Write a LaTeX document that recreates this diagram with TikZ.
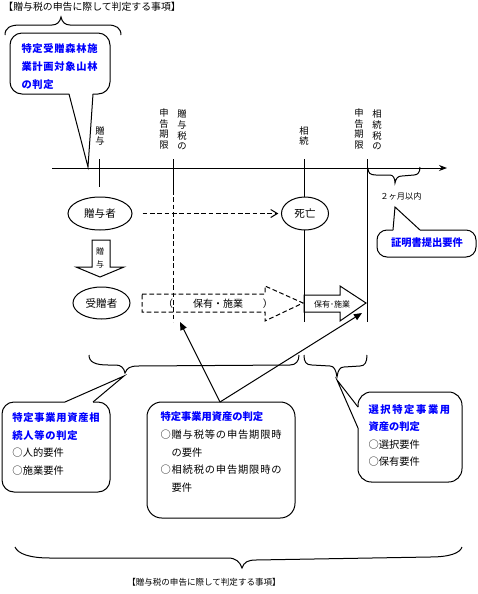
\documentclass[tikz,border=0pt]{standalone}
\usepackage{fontspec}
\setmainfont{Noto Sans CJK JP}
\usetikzlibrary{shapes.geometric,arrows.meta}
\begin{document}
\begin{tikzpicture}[x=0.75pt,y=-0.75pt,line width=0.75pt,
  dsh/.style={dash pattern=on 3.5pt off 2pt},
  t/.style={inner sep=0pt, anchor=west, font=\fontsize{7.7}{9}\selectfont},
  tsp/.style={inner sep=0pt, anchor=west, font=\fontsize{7.7}{9}\selectfont\addfontfeature{LetterSpace=8}},
  tb/.style={inner sep=0pt, anchor=west, text=blue, font=\bfseries\fontsize{7.7}{9}\selectfont},
  tbsp/.style={inner sep=0pt, anchor=west, text=blue, font=\bfseries\fontsize{7.7}{9}\selectfont\addfontfeature{LetterSpace=7}},
  tbsp2/.style={inner sep=0pt, anchor=west, text=blue, font=\bfseries\fontsize{7.7}{9}\selectfont\addfontfeature{LetterSpace=16}},
  vl/.style={inner sep=0pt, align=center, font=\fontsize{7}{7.9}\selectfont},
  oval/.style={ellipse, draw, inner sep=0pt, font=\fontsize{7.9}{9}\selectfont},
  ptr/.style={-{Triangle[length=6pt,width=5pt]}},
  small/.style={inner sep=0pt, font=\fontsize{6.2}{7}\selectfont}
]
\fill[white] (0,0) rectangle (478,594);
\useasboundingbox (0,0) rectangle (478,594);

% titles
\node[inner sep=0pt, anchor=west, font=\fontsize{7.4}{9}\selectfont] (title1) at (3,7) {【贈与税の申告に際して判定する事項】};
\node[inner sep=0pt, font=\fontsize{6.4}{8}\selectfont] (title2) at (204,582) {【贈与税の申告に際して判定する事項】};

% top brace
\draw (5,35) .. controls (5,28) and (10,25) .. (20,25) -- (52,25) .. controls (57,25) and (60,22) .. (61,17) .. controls (62,22) and (65,25) .. (70,25) -- (108,25) .. controls (116,25) and (121,28) .. (121,35);

% top-left callout
\draw[rounded corners=9pt] (69,94) -- (10,94) -- (10,33) -- (110,33) -- (110,94) -- (93,94);
\draw (69,94) -- (88,167) -- (93,94);
\node[tbsp] (a1) at (21,49) {特定受贈森林施};
\node[tbsp] (a2) at (21,67) {業計画対象山林};
\node[tbsp] (a3) at (21,85) {の判定};

% axis
\coordinate (ax0) at (52,168);
\coordinate (ax1) at (447,168);
\draw[-{Stealth[length=6pt,width=4.5pt]}] (ax0) -- (ax1);

% ticks and vertical lines
\draw (99,159) -- (99,187);
\draw (173,159) -- (173,190);
\draw[dsh] (173,190) -- (173,322);
\draw (304,159) -- (304,197);
\draw (304,230) -- (304,322);
\draw (367,159) -- (367,322);

% vertical labels
\node[vl] (v1) at (100,136) {贈\\与};
\node[vl] (v2) at (164,129) {申\\告\\期\\限};
\node[vl] (v3) at (182,130) {贈\\与\\税\\の};
\node[vl] (v4) at (304,136) {相\\続};
\node[vl] (v5) at (359,129) {申\\告\\期\\限};
\node[vl] (v6) at (377,130) {相\\続\\税\\の};

% small brace below axis
\draw (368,168) .. controls (368,173) and (370,175) .. (376,175) -- (390,175) .. controls (393,175) and (395,178) .. (395,183) .. controls (396,178) and (398,176) .. (402,176) -- (414,175) .. controls (418,175) and (420,172) .. (420,167);
\node[small] (months) at (401,196) {２ヶ月以内};

% certificate callout
\draw[rounded corners=7.5pt] (420,230) -- (476,230) -- (476,257) -- (377,257) -- (377,230) -- (393,230);
\draw (393,230) -- (395,207) -- (420,230);
\node[tb, anchor=center] (cert) at (427,243) {証明書提出要件};

% persons
\node[oval, minimum width=48pt, minimum height=24.75pt] (giver) at (100,213.5) {贈与者};
\node[oval, minimum width=35.25pt, minimum height=24.75pt] (death) at (305,213.5) {死亡};
\node[oval, minimum width=42.75pt, minimum height=24pt] (recv) at (101.5,303) {受贈者};
\draw[dsh, -{Straight Barb[length=5pt,width=6pt]}, shorten <=7.5pt, shorten >=2pt] (giver) -- (death);

% down block arrow
\draw (92,240) -- (110,240) -- (110,267) -- (124,267) -- (100,277) -- (76,267) -- (92,267) -- cycle;
\node[small, font=\fontsize{6}{7}\selectfont] (g1) at (100,251) {贈};
\node[small, font=\fontsize{6}{7}\selectfont] (g2) at (100,264) {与};

% dashed block arrow
\draw[dsh] (142,294) -- (265,294) -- (265,286) -- (303,303) -- (265,321) -- (265,312) -- (142,312) -- cycle;
\node[inner sep=0pt, font=\fontsize{7.5}{9}\selectfont] (hold1) at (218,304) {（　　保有・施業　　）};

% solid block arrow
\draw (304,295) -- (340,295) -- (340,286) -- (366,303) -- (340,321) -- (340,312) -- (304,312) -- cycle;
\node[small, font=\fontsize{6}{7}\selectfont] (hold2) at (332,304) {保有･施業};

% lower braces
\draw (89,355) .. controls (89,362) and (95,365) .. (108,365) -- (116,365) .. controls (121,365) and (124,368) .. (125,373) .. controls (127,368) and (130,366) .. (138,366) -- (290,365) .. controls (296,365) and (299,361) .. (299,355);
\draw (304,355) .. controls (304,362) and (306,365) .. (312,365) -- (330,366) .. controls (334,366) and (336,370) .. (337,377) .. controls (338,370) and (340,367) .. (344,367) -- (360,366) .. controls (365,366) and (367,362) .. (367,355);
\draw (15,547) .. controls (18,554) and (30,558) .. (50,558) -- (228,558) .. controls (236,558) and (240,562) .. (242,568) .. controls (244,562) and (248,560) .. (256,560) -- (430,557) .. controls (450,557) and (460,553) .. (462,547);

% left callout
\draw[rounded corners=9pt] (93,402) -- (110,402) -- (110,492) -- (2,492) -- (2,402) -- (65,402);
\draw (65,402) -- (124,376) -- (93,402);
\node[tbsp] (b1) at (12,418) {特定事業用資産相};
\node[tbsp] (b2) at (12,436) {続人等の判定};
\node[t] (b3) at (12,453) {○人的要件};
\node[t] (b4) at (12,471) {○施業要件};

% middle callout
\draw[rounded corners=11pt] (147,402) rectangle (295,518);
\coordinate (mtop) at (220,402);
\coordinate (tipA) at (180,322);
\coordinate (tipB) at (362,313);
\draw[ptr] (mtop) -- (tipA);
\draw[ptr] (mtop) -- (tipB);
\node[tb] (c1) at (160,417) {特定事業用資産の判定};
\node[tsp] (c2) at (160,435) {○贈与税等の申告期限時};
\node[t] (c3) at (171,453) {の要件};
\node[tsp] (c4) at (160,470) {○相続税の申告期限時の};
\node[t] (c5) at (171,488) {要件};

% right callout
\draw[rounded corners=10pt] (358,428) -- (358,482) -- (462,482) -- (462,392) -- (358,392) -- (358,407);
\draw (358,407) -- (337,380) -- (358,428);
\node[tbsp2] (d1) at (368,410) {選択特定事業用};
\node[tb] (d2) at (368,427) {資産の判定};
\node[t] (d3) at (368,445) {○選択要件};
\node[t] (d4) at (368,462) {○保有要件};
\end{tikzpicture}
\end{document}
